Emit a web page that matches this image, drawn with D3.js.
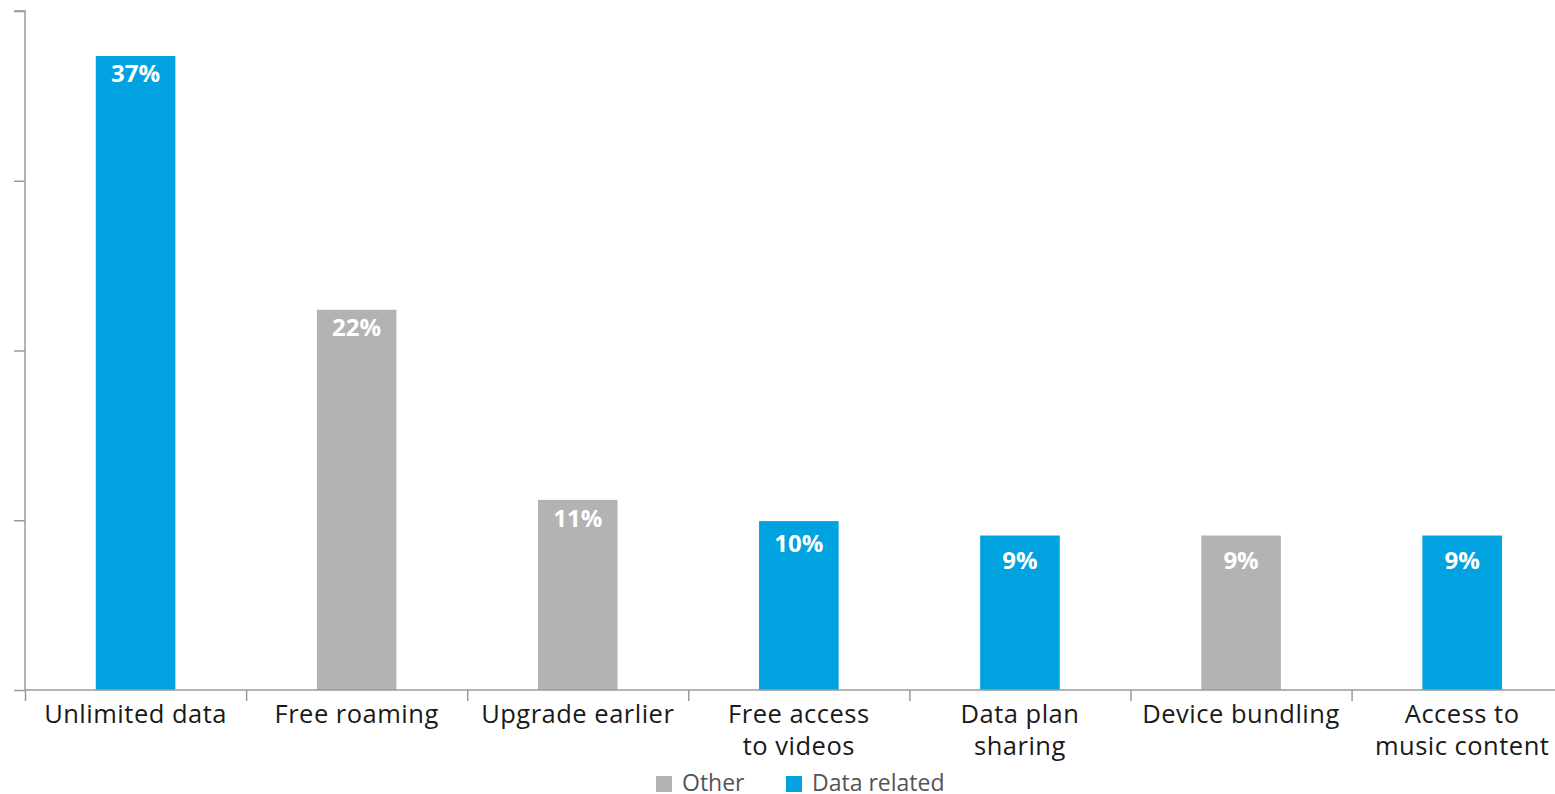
<!DOCTYPE html>
<html>
<head>
<meta charset="utf-8">
<script src="https://cdn.jsdelivr.net/npm/d3@7"></script>
<style>
  html, body { margin: 0; padding: 0; background: #fff; }
  svg { display: block; font-family: "Open Sans", "Noto Sans", sans-serif; }
</style>
</head>
<body>
<svg id="chart" width="1555" height="794"></svg>
<script>
const categories = ["Unlimited data", "Free roaming", "Upgrade earlier", "Free access\nto videos", "Data plan\nsharing", "Device bundling", "Access to\nmusic content"];
const values = [37.35, 22.4, 11.2, 9.95, 9.1, 9.1, 9.1];
const labels = ["37%", "22%", "11%", "10%", "9%", "9%", "9%"];
const groups = ["Data related", "Other", "Other", "Data related", "Data related", "Other", "Data related"];
const legendItems = ["Other", "Data related"];
const yTicks = [0, 10, 20, 30, 40];

const colors = { "Other": "#b3b3b3", "Data related": "#00a3e0" };

const svg = d3.select("#chart");
const x0 = 25, bandW = 221.1;
const x = d3.scaleBand().domain(categories).range([x0, x0 + bandW * categories.length]).paddingInner(0.64).paddingOuter(0.32);
const y = d3.scaleLinear().domain([0, 40]).range([690, 11]);

// y axis
const yAxis = svg.append("g").attr("transform", `translate(${x0},0)`)
  .call(d3.axisLeft(y).tickValues(yTicks).tickSize(11).tickFormat(""));
yAxis.selectAll("path, line").attr("stroke", "#9a9a9a").attr("stroke-width", 1.5);
yAxis.select(".domain").attr("d", `M-11,${y(40)}H0V${y(0)}`);

// bars
svg.append("g").selectAll("rect").data(categories).join("rect")
  .attr("x", d => x(d))
  .attr("width", x.bandwidth())
  .attr("y", (d, i) => y(values[i]))
  .attr("height", (d, i) => y(0) - y(values[i]))
  .attr("fill", (d, i) => colors[groups[i]]);

// value labels (short bars get their label pushed a little lower)
svg.append("g").selectAll("text").data(categories).join("text")
  .attr("x", d => x(d) + x.bandwidth() / 2)
  .attr("y", (d, i) => y(values[i]) + 26 + Math.max(0, 11.5 - values[i]) * 3.3)
  .attr("text-anchor", "middle")
  .attr("fill", "#fff")
  .attr("font-weight", 700)
  .attr("font-size", 24)
  .text((d, i) => labels[i]);

// x axis
const xb = d3.scaleLinear().domain([0, categories.length]).range([x0, x0 + bandW * categories.length]);
const xAxis = svg.append("g").attr("transform", `translate(0,${y(0)})`)
  .call(d3.axisBottom(xb).tickValues(d3.range(0, categories.length + 1)).tickSize(11).tickFormat(""));
xAxis.selectAll("path, line").attr("stroke", "#9a9a9a").attr("stroke-width", 1.5);
xAxis.select(".domain").attr("d", `M${x0},0H${x0 + bandW * categories.length}`);

// category labels
const catG = svg.append("g");
categories.forEach((c, i) => {
  const lines = c.split("\n");
  const cx = x(c) + x.bandwidth() / 2;
  const t = catG.append("text")
    .attr("x", cx)
    .attr("y", 723)
    .attr("text-anchor", "middle")
    .attr("fill", "#1a1a1a")
    .attr("font-size", 25.5)
    .attr("letter-spacing", 0.5);
  lines.forEach((l, j) => t.append("tspan").attr("x", cx).attr("dy", j === 0 ? 0 : 31.5).text(l));
});

// legend
const legendX = [656, 786];
const lg = svg.append("g");
legendItems.forEach((name, i) => {
  lg.append("rect").attr("x", legendX[i]).attr("y", 776).attr("width", 16).attr("height", 16).attr("fill", colors[name]);
  lg.append("text").attr("x", legendX[i] + 26).attr("y", 791).attr("font-size", 23).attr("fill", "#555").text(name);
});
</script>
</body>
</html>
